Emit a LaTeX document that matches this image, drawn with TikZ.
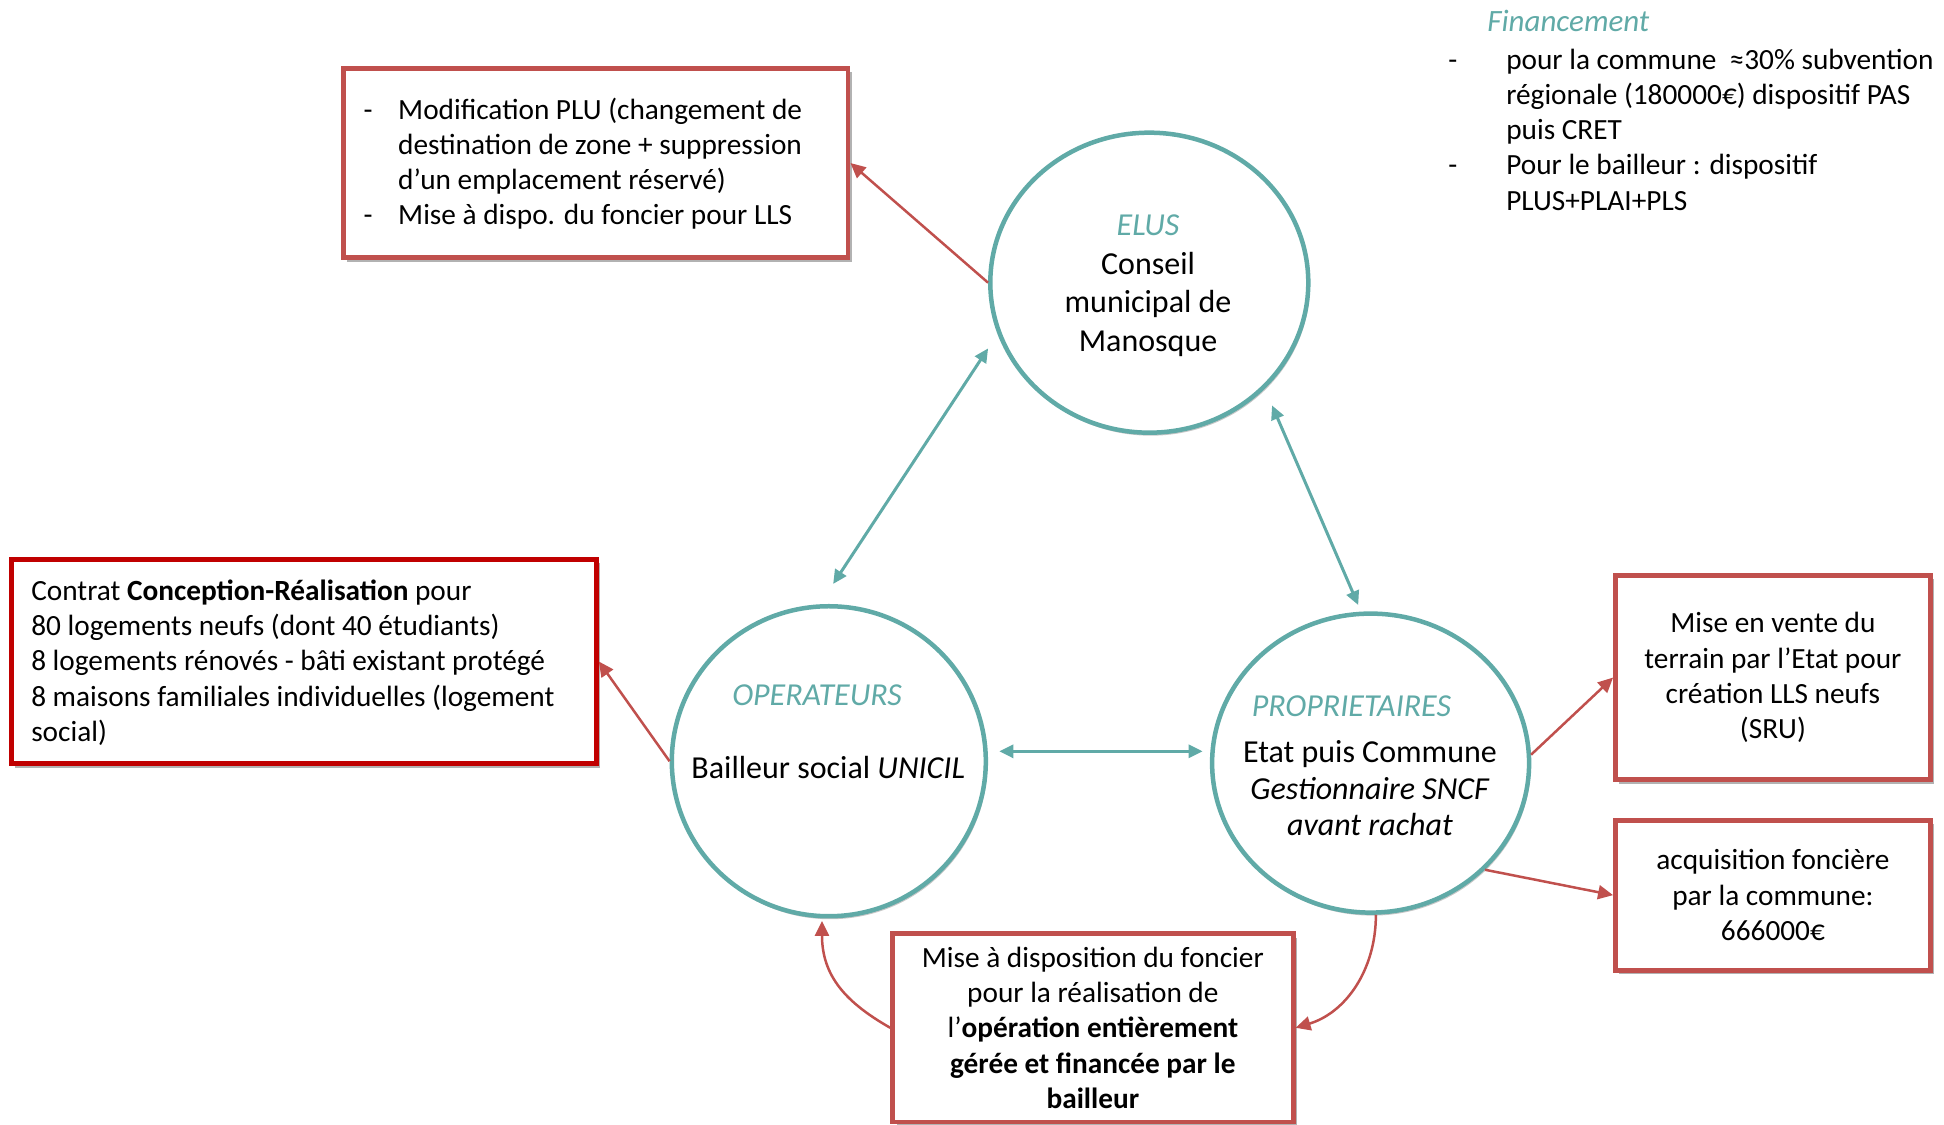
\documentclass[tikz,border=0pt]{standalone}
\usepackage{fontspec}
\setmainfont{Carlito}
\usetikzlibrary{shapes.geometric,arrows.meta,calc,shadows}
\definecolor{ringteal}{RGB}{96,170,167}
\definecolor{boxred}{RGB}{192,80,77}
\definecolor{deepred}{RGB}{192,0,0}
\begin{document}
\begin{tikzpicture}[x=1.2398pt, y=-1.2398pt,
  bodyfont/.style={font=\fontsize{29.3}{35.3}\selectfont},
  ringfont/.style={font=\fontsize{32}{38.5}\selectfont},
  rolelabel/.style={font=\fontsize{32}{38.5}\selectfont\itshape, text=ringteal, inner sep=0pt},
  ring/.style={ellipse, draw=ringteal, line width=4.5pt, fill=white, inner sep=0pt,
    drop shadow={shadow xshift=1.5pt, shadow yshift=-3pt, opacity=0.22, fill=black}},
  redbox/.style={rectangle, draw=boxred, line width=4.8pt, fill=white, inner sep=0pt,
    bodyfont, align=center,
    drop shadow={shadow xshift=4pt, shadow yshift=-4pt, opacity=0.3, fill=black}},
  plain/.style={inner sep=0pt, align=left, anchor=west},
  redlink/.style={draw=boxred, line width=2.5pt, -{Triangle[length=15pt,width=14pt]}},
  teallink/.style={draw=ringteal, line width=3pt,
    {Triangle[length=14pt,width=13pt]}-{Triangle[length=14pt,width=13pt]}},
]
\useasboundingbox (0,0) rectangle (1568,907);

% the three actors
\node[ring, minimum width=318pt, minimum height=300pt] (elus) at (927,228) {};
\node[ring, minimum width=314pt, minimum height=310pt] (oper) at (668.5,614) {};
\node[ring, minimum width=317pt, minimum height=299pt] (prop) at (1105.5,615.5) {};

\node[ringfont, align=center, inner sep=0pt] (elustext) at (926,230.5)
  {\textcolor{ringteal}{\itshape ELUS}\\Conseil\\municipal de\\Manosque};
\node[rolelabel] (opertitle) at (659,561) {OPERATEURS};
\node[ringfont, inner sep=0pt] (bailleur) at (668,619) {Bailleur social \textit{UNICIL}};
\node[rolelabel] (proptitle) at (1090,570) {PROPRIETAIRES};
\node[font=\fontsize{32}{36.5}\selectfont, align=center, inner sep=0pt] (propbody) at (1105,636)
  {Etat puis Commune\\\textit{Gestionnaire SNCF}\\\textit{avant rachat}};

% boxes
\node[redbox, minimum width=504.6pt, minimum height=189.7pt] (plu) at (480.5,131.5) {};
\node[plain, bodyfont] (plutext) at ($(plu.west)+(18,0.5)$)
  {\makebox[34.7pt][l]{-}Modification PLU (changement de\\
   \hspace*{34.7pt}destination de zone + suppression\\
   \hspace*{34.7pt}d’un emplacement réservé)\\
   \makebox[34.7pt][l]{-}Mise à dispo. du foncier pour LLS};

\node[redbox, draw=deepred, minimum width=585.2pt, minimum height=204.6pt] (contrat) at (245,533.5) {};
\node[plain, bodyfont] (contrattext) at ($(contrat.west)+(18,1)$)
  {Contrat \textbf{Conception-Réalisation} pour\\
   80 logements neufs (dont 40 étudiants)\\
   8 logements rénovés - bâti existant protégé\\
   8 maisons familiales individuelles (logement\\
   social)};

\node[redbox, minimum width=314.9pt, minimum height=204.6pt] (vente) at (1430,546.5)
  {Mise en vente du\\terrain par l’Etat pour\\création LLS neufs\\(SRU)};
\node[redbox, minimum width=314.9pt, minimum height=150pt] (acq) at (1430,722)
  {acquisition foncière\\par la commune:\\666000€};
\node[redbox, minimum width=400.5pt, minimum height=188.5pt] (mise) at (881.5,829)
  {Mise à disposition du foncier\\pour la réalisation de\\
   l’\textbf{opération entièrement}\\\textbf{gérée et financée par le}\\\textbf{bailleur}};

% funding notes
\node[font=\fontsize{31}{36}\selectfont\itshape, text=ringteal, inner sep=0pt] (fin) at (1265,17) {Financement};
\node[plain, bodyfont] (finlist) at (1168,104.5)
  {\makebox[58pt][l]{-}pour la commune\ \ ≈30\% subvention\\
   \hspace*{58pt}régionale (180000€) dispositif PAS\\
   \hspace*{58pt}puis CRET\\
   \makebox[58pt][l]{-}Pour le bailleur : dispositif\\
   \hspace*{58pt}PLUS+PLAI+PLS};

% relations between actors
\draw[teallink] ($(elus.center)+(-130,53)$) -- ($(oper.center)+(3.5,-143)$);
\draw[teallink] ($(elus.center)+(99,99)$) -- ($(prop.center)+(-10,-127.5)$);
\draw[teallink] ($(oper.center)+(137.5,-8)$) -- ($(prop.center)+(-135.5,-9.5)$);

% actions
\draw[redlink] (elus.west) -- (plu.east);
\draw[redlink] (oper.west) -- (contrat.east);
\draw[redlink] (prop.3) -- (vente.west);
\draw[redlink] (prop.-43) -- (acq.west);
\draw[redlink] (mise.west) .. controls +(-35,-20) and +(0,45) .. ($(oper.south)+(-5.5,2)$);
\draw[redlink] (prop.-88) .. controls +(0,45) and +(40,-12) .. (mise.east);
\end{tikzpicture}
\end{document}
